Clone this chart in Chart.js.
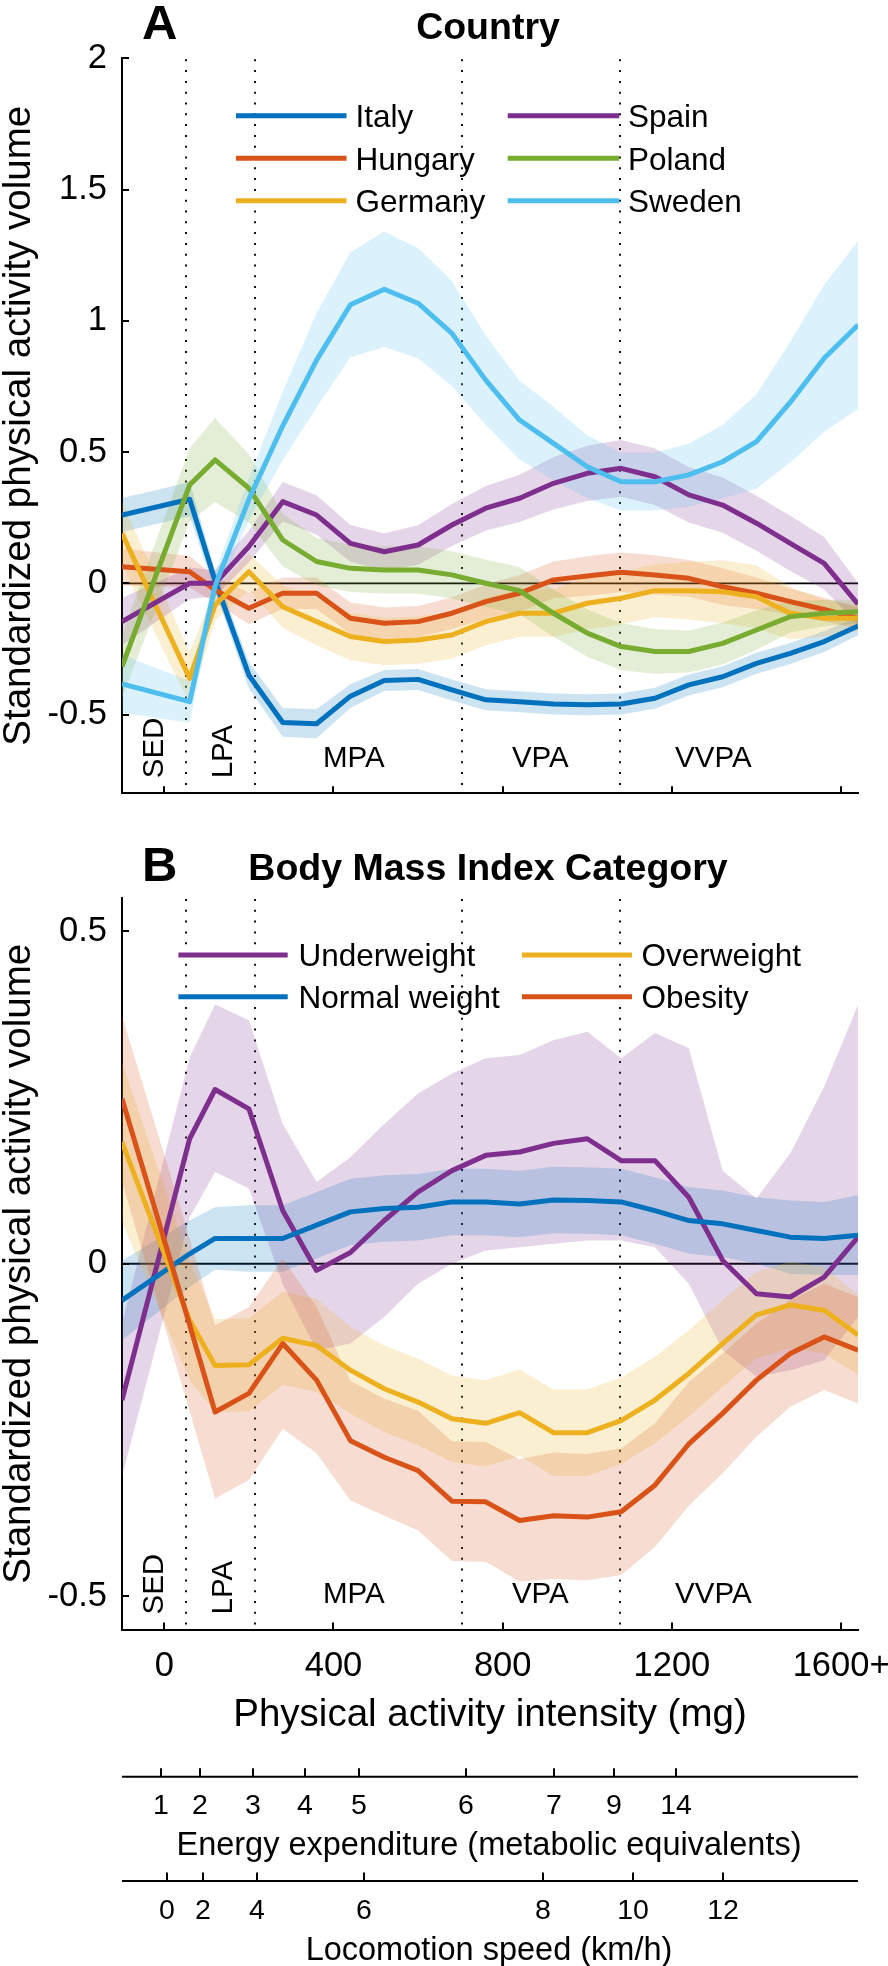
<!DOCTYPE html>
<html><head><meta charset="utf-8">
<script src="https://cdn.jsdelivr.net/npm/chart.js@4.4.1/dist/chart.umd.min.js"></script>
<style>
html,body{margin:0;padding:0;background:#fff;}
#wrap{position:relative;width:888px;height:1966px;overflow:hidden;}
#ca{position:absolute;left:0;top:0;}
#cb{position:absolute;left:0;top:820px;}
</style></head><body>
<div id="wrap"><canvas id="ca" width="888" height="820"></canvas><canvas id="cb" width="888" height="1146"></canvas></div>
<script>
const FONT = '"Liberation Sans", Arial, Helvetica, sans-serif';

// ---- shared x grid (physical activity intensity, mg) ----
const X_MG = [-100, 60, 120, 200, 280, 360, 440, 520, 600, 680, 760, 840, 920, 1000, 1080, 1160, 1240, 1320, 1400, 1480, 1560, 1640];

// ---- Panel A: Country ----
const COUNTRIES = ['Italy', 'Hungary', 'Germany', 'Spain', 'Poland', 'Sweden'];
const COUNTRY_COLORS = ['#0072BD', '#D95319', '#EDB120', '#7E2F8E', '#77AC30', '#4DBEEE'];
const ITALY   = [0.26, 0.32, 0.01, -0.35, -0.53, -0.535, -0.43, -0.37, -0.366, -0.406, -0.444, -0.451, -0.46, -0.463, -0.46, -0.438, -0.387, -0.356, -0.305, -0.267, -0.222, -0.163];
const HUNGARY = [0.063, 0.044, -0.025, -0.095, -0.038, -0.038, -0.133, -0.152, -0.146, -0.114, -0.07, -0.038, 0.013, 0.028, 0.042, 0.032, 0.019, -0.013, -0.038, -0.07, -0.1, -0.133];
const GERMANY = [0.19, -0.362, -0.083, 0.044, -0.089, -0.146, -0.203, -0.222, -0.216, -0.197, -0.146, -0.114, -0.114, -0.076, -0.057, -0.028, -0.028, -0.032, -0.051, -0.114, -0.133, -0.133];
const SPAIN   = [-0.146, 0.0, 0.0, 0.14, 0.311, 0.26, 0.152, 0.12, 0.146, 0.222, 0.286, 0.324, 0.381, 0.419, 0.438, 0.406, 0.337, 0.298, 0.229, 0.152, 0.076, -0.079];
const POLAND  = [-0.317, 0.375, 0.47, 0.362, 0.165, 0.083, 0.057, 0.051, 0.051, 0.032, 0.0, -0.028, -0.114, -0.19, -0.241, -0.26, -0.26, -0.229, -0.178, -0.127, -0.114, -0.108];
const SWEDEN  = [-0.383, -0.451, -0.01, 0.32, 0.6, 0.85, 1.061, 1.12, 1.067, 0.952, 0.774, 0.622, 0.533, 0.444, 0.387, 0.387, 0.413, 0.463, 0.54, 0.69, 0.857, 0.984];
// half-widths of the shaded bands
const ITALY_HW   = [0.065, 0.065, 0.04, 0.05, 0.055, 0.055, 0.045, 0.04, 0.04, 0.04, 0.04, 0.04, 0.04, 0.04, 0.04, 0.04, 0.04, 0.04, 0.04, 0.04, 0.04, 0.035];
const HUNGARY_HW = [0.07, 0.06, 0.05, 0.06, 0.06, 0.06, 0.06, 0.06, 0.06, 0.06, 0.065, 0.07, 0.07, 0.075, 0.075, 0.075, 0.07, 0.07, 0.06, 0.05, 0.045, 0.04];
const GERMANY_HW = [0.12, 0.1, 0.06, 0.07, 0.08, 0.09, 0.09, 0.09, 0.09, 0.09, 0.09, 0.09, 0.09, 0.1, 0.1, 0.1, 0.11, 0.12, 0.12, 0.1, 0.07, 0.05];
const SPAIN_HW   = [0.09, 0.06, 0.05, 0.06, 0.075, 0.075, 0.07, 0.07, 0.075, 0.08, 0.085, 0.09, 0.1, 0.105, 0.108, 0.108, 0.105, 0.105, 0.105, 0.105, 0.1, 0.08];
const POLAND_HW  = [0.12, 0.14, 0.16, 0.13, 0.1, 0.09, 0.09, 0.09, 0.09, 0.09, 0.09, 0.09, 0.09, 0.09, 0.09, 0.085, 0.08, 0.08, 0.075, 0.06, 0.05, 0.045];
const SWEDEN_HW  = [0.11, 0.08, 0.05, 0.08, 0.13, 0.18, 0.2, 0.22, 0.21, 0.2, 0.17, 0.15, 0.14, 0.12, 0.11, 0.11, 0.12, 0.14, 0.18, 0.23, 0.28, 0.32];

// ---- Panel B: Body Mass Index Category ----
const BMI_CATS = ['Underweight', 'Normal weight', 'Overweight', 'Obesity'];
const BMI_COLORS = ['#7E2F8E', '#0072BD', '#EDB120', '#D95319'];
const UNDERWEIGHT = [-0.205, 0.188, 0.262, 0.233, 0.08, -0.01, 0.017, 0.065, 0.108, 0.14, 0.163, 0.168, 0.181, 0.188, 0.155, 0.155, 0.1, 0.005, -0.045, -0.05, -0.02, 0.04];
const NORMAL      = [-0.055, 0.015, 0.038, 0.038, 0.038, 0.058, 0.078, 0.083, 0.085, 0.093, 0.093, 0.09, 0.096, 0.095, 0.093, 0.08, 0.065, 0.06, 0.05, 0.04, 0.038, 0.043];
const OVERWEIGHT  = [0.183, -0.085, -0.153, -0.152, -0.112, -0.123, -0.16, -0.188, -0.208, -0.233, -0.24, -0.224, -0.254, -0.254, -0.236, -0.205, -0.165, -0.12, -0.077, -0.062, -0.07, -0.107];
const OBESITY     = [0.248, -0.092, -0.223, -0.195, -0.12, -0.175, -0.266, -0.291, -0.311, -0.357, -0.358, -0.386, -0.379, -0.381, -0.373, -0.333, -0.271, -0.225, -0.175, -0.135, -0.11, -0.13];
const UNDERWEIGHT_LO = [-0.32, 0.07, 0.138, 0.113, -0.03, -0.13, -0.12, -0.08, -0.03, 0.0, 0.02, 0.025, 0.03, 0.035, 0.035, 0.025, -0.03, -0.13, -0.17, -0.16, -0.145, -0.08];
const UNDERWEIGHT_HI = [-0.09, 0.31, 0.39, 0.366, 0.21, 0.123, 0.16, 0.21, 0.256, 0.286, 0.309, 0.314, 0.336, 0.349, 0.309, 0.347, 0.324, 0.14, 0.098, 0.166, 0.266, 0.389];
const NORMAL_HW     = [0.06, 0.05, 0.047, 0.05, 0.05, 0.05, 0.05, 0.05, 0.05, 0.05, 0.05, 0.05, 0.05, 0.05, 0.05, 0.05, 0.05, 0.05, 0.05, 0.055, 0.055, 0.06];
const OVERWEIGHT_HW = [0.12, 0.09, 0.07, 0.07, 0.07, 0.07, 0.065, 0.065, 0.065, 0.065, 0.065, 0.065, 0.065, 0.065, 0.065, 0.065, 0.065, 0.065, 0.065, 0.065, 0.065, 0.06];
const OBESITY_HW    = [0.125, 0.13, 0.13, 0.13, 0.128, 0.11, 0.09, 0.088, 0.09, 0.09, 0.09, 0.092, 0.095, 0.095, 0.095, 0.093, 0.093, 0.09, 0.085, 0.08, 0.08, 0.08];

// ---- axes / ticks ----
const Y_TICKS_A = [-0.5, 0, 0.5, 1, 1.5, 2];
const Y_TICKS_B = [-0.5, 0, 0.5];
const X_TICKS = [0, 400, 800, 1200, 1600];
const X_TICK_LABELS = ['0', '400', '800', '1200', '1600+'];
const CUTPOINTS_MG = [52, 215, 704, 1077];
const INTENSITY_NAMES = ['SED', 'LPA', 'MPA', 'VPA', 'VVPA'];
const INTENSITY_LABEL_MG = [-29, 134, 448, 889, 1298];
const MET_TICKS_MG = [-8, 84, 210, 333, 460, 713, 921, 1062, 1209];
const MET_LABELS = ['1', '2', '3', '4', '5', '6', '7', '9', '14'];
const SPEED_TICKS_MG = [6, 92, 220, 472, 895, 1108, 1321];
const SPEED_LABELS = ['0', '2', '4', '6', '8', '10', '12'];

function rgba(hex, a) {
  const n = parseInt(hex.slice(1), 16);
  return `rgba(${(n >> 16) & 255},${(n >> 8) & 255},${n & 255},${a})`;
}
function withHW(name, color, mean, hw) {
  return {name, color, mean, lo: mean.map((m, i) => m - hw[i]), hi: mean.map((m, i) => m + hw[i])};
}
const SERIES_A = [
  withHW(COUNTRIES[0], COUNTRY_COLORS[0], ITALY, ITALY_HW),
  withHW(COUNTRIES[1], COUNTRY_COLORS[1], HUNGARY, HUNGARY_HW),
  withHW(COUNTRIES[2], COUNTRY_COLORS[2], GERMANY, GERMANY_HW),
  withHW(COUNTRIES[3], COUNTRY_COLORS[3], SPAIN, SPAIN_HW),
  withHW(COUNTRIES[4], COUNTRY_COLORS[4], POLAND, POLAND_HW),
  withHW(COUNTRIES[5], COUNTRY_COLORS[5], SWEDEN, SWEDEN_HW)
];
const SERIES_B = [
  {name: BMI_CATS[0], color: BMI_COLORS[0], mean: UNDERWEIGHT, lo: UNDERWEIGHT_LO, hi: UNDERWEIGHT_HI},
  withHW(BMI_CATS[1], BMI_COLORS[1], NORMAL, NORMAL_HW),
  withHW(BMI_CATS[2], BMI_COLORS[2], OVERWEIGHT, OVERWEIGHT_HW),
  withHW(BMI_CATS[3], BMI_COLORS[3], OBESITY, OBESITY_HW)
];

function pts(arr) { return X_MG.map((x, i) => ({x, y: arr[i]})); }

function buildDatasets(series) {
  const ds = [];
  series.forEach((s, k) => {
    ds.push({label: s.name, data: pts(s.mean), borderColor: s.color, borderWidth: 5,
      pointRadius: 0, fill: false, tension: 0, order: 100 - k, borderJoinStyle: 'round', borderCapStyle: 'butt'});
  });
  series.forEach((s, k) => {
    const lowIdx = ds.length;
    ds.push({label: s.name + ' lo', data: pts(s.lo), borderColor: 'rgba(0,0,0,0)', borderWidth: 0,
      pointRadius: 0, fill: false, tension: 0, order: 1000 - k});
    ds.push({label: s.name + ' hi', data: pts(s.hi), borderColor: 'rgba(0,0,0,0)', borderWidth: 0,
      pointRadius: 0, fill: lowIdx, backgroundColor: rgba(s.color, 0.2), tension: 0, order: 1000 - k});
  });
  return ds;
}

function makeDecor(cfg) {
  return {
    id: 'decor',
    beforeDatasetsDraw(chart) {
      const {ctx, chartArea: a, scales: {x, y}} = chart;
      ctx.save();
      const y0 = y.getPixelForValue(0);
      ctx.strokeStyle = '#000'; ctx.lineWidth = 1.8;
      ctx.beginPath(); ctx.moveTo(a.left, y0); ctx.lineTo(a.right, y0); ctx.stroke();
      ctx.setLineDash([2, 8.8]); ctx.lineWidth = 2; ctx.strokeStyle = '#111';
      CUTPOINTS_MG.forEach(v => {
        const px = Math.round(x.getPixelForValue(v));
        ctx.beginPath(); ctx.moveTo(px, a.top + 1); ctx.lineTo(px, a.bottom); ctx.stroke();
      });
      ctx.restore();
    },
    afterDatasetsDraw(chart) {
      const {ctx, chartArea: a, scales: {x, y}} = chart;
      ctx.save();
      ctx.strokeStyle = '#000'; ctx.lineWidth = 2;
      cfg.yTicks.forEach(v => {
        const py = Math.round(y.getPixelForValue(v));
        ctx.beginPath(); ctx.moveTo(a.left, py); ctx.lineTo(a.left + 7, py); ctx.stroke();
      });
      X_TICKS.forEach(v => {
        const px = Math.round(x.getPixelForValue(v));
        ctx.beginPath(); ctx.moveTo(px, a.bottom); ctx.lineTo(px, a.bottom - 7); ctx.stroke();
      });
      ctx.fillStyle = '#000';
      ctx.font = '29.5px ' + FONT;
      INTENSITY_NAMES.forEach((t, i) => {
        const px = x.getPixelForValue(INTENSITY_LABEL_MG[i]);
        if (i < 2) {
          ctx.save();
          ctx.translate(px + 10.6, a.bottom - 15);
          ctx.rotate(-Math.PI / 2);
          ctx.textAlign = 'left'; ctx.textBaseline = 'alphabetic';
          ctx.fillText(t, 0, 0);
          ctx.restore();
        } else {
          ctx.textAlign = 'center'; ctx.textBaseline = 'alphabetic';
          ctx.fillText(t, px, a.bottom - 26.5);
        }
      });
      ctx.font = '31.5px ' + FONT;
      ctx.textAlign = 'left'; ctx.textBaseline = 'alphabetic';
      cfg.series.forEach((s, k) => {
        const col = Math.floor(k / cfg.legend.rows.length);
        const row = k % cfg.legend.rows.length;
        const c = cfg.legend.cols[col];
        const ly = cfg.legend.rows[row];
        ctx.strokeStyle = s.color; ctx.lineWidth = 5;
        ctx.beginPath(); ctx.moveTo(c[0], ly); ctx.lineTo(c[1], ly); ctx.stroke();
        ctx.fillStyle = '#000';
        ctx.fillText(s.name, c[2], ly + 11.3);
      });
      ctx.restore();
    },
    afterDraw(chart) {
      const {ctx, chartArea: a, scales: {x}} = chart;
      ctx.save();
      ctx.fillStyle = '#000';
      ctx.textBaseline = 'alphabetic';
      ctx.font = 'bold 49px ' + FONT;
      ctx.textAlign = 'left';
      ctx.fillText(cfg.letter, cfg.letterX, cfg.letterY);
      ctx.font = 'bold 37.5px ' + FONT;
      ctx.textAlign = 'center';
      ctx.fillText(cfg.title, (a.left + a.right) / 2 - 2, cfg.titleY);
      if (cfg.extraAxes) {
        const axes = [
          {ticks: MET_TICKS_MG, labels: MET_LABELS, lineY: 956.7, labelY: 993.5, title: 'Energy expenditure (metabolic equivalents)', titleY: 1035},
          {ticks: SPEED_TICKS_MG, labels: SPEED_LABELS, lineY: 1061, labelY: 1098.5, title: 'Locomotion speed (km/h)', titleY: 1140}
        ];
        axes.forEach(ax => {
          ctx.strokeStyle = '#000'; ctx.lineWidth = 2;
          ctx.beginPath(); ctx.moveTo(a.left, ax.lineY); ctx.lineTo(a.right, ax.lineY); ctx.stroke();
          ctx.font = '28.5px ' + FONT; ctx.textAlign = 'center';
          ax.ticks.forEach((v, i) => {
            const px = Math.round(x.getPixelForValue(v));
            ctx.beginPath(); ctx.moveTo(px, ax.lineY); ctx.lineTo(px, ax.lineY - 8.5); ctx.stroke();
            ctx.fillText(ax.labels[i], px, ax.labelY);
          });
          ctx.font = '32.5px ' + FONT;
          ctx.fillText(ax.title, (a.left + a.right) / 2 - 1, ax.titleY);
        });
      }
      ctx.restore();
    }
  };
}

function makeChart(canvas, cfg) {
  return new Chart(canvas, {
    type: 'line',
    data: {datasets: buildDatasets(cfg.series)},
    options: {
      responsive: false, animation: false, devicePixelRatio: 1, events: [],
      layout: {padding: {top: cfg.padTop, right: 30, left: 0, bottom: 0}},
      plugins: {legend: {display: false}, tooltip: {enabled: false}, filler: {propagate: false}},
      scales: {
        x: {
          type: 'linear', min: -100, max: 1640,
          afterBuildTicks: s => { s.ticks = X_TICKS.map(v => ({value: v})); },
          ticks: {display: cfg.xLabels, autoSkip: false, maxRotation: 0, color: '#000', padding: 15.8,
            font: {family: FONT, size: 34.5},
            callback: v => { const i = X_TICKS.indexOf(v); return i >= 0 ? X_TICK_LABELS[i] : ''; }},
          grid: {display: false, drawTicks: false},
          border: {display: true, color: '#000', width: 2},
          title: {display: cfg.xLabels, text: 'Physical activity intensity (mg)', color: '#000',
            font: {family: FONT, size: 38.5, lineHeight: 1.2}, padding: {top: 0, bottom: 227.9}},
          afterFit: s => { s.height = cfg.xHeight; s.paddingLeft = 0; s.paddingRight = 0; }
        },
        y: {
          type: 'linear', min: cfg.yMin, max: cfg.yMax,
          afterBuildTicks: s => { s.ticks = cfg.yTicks.map(v => ({value: v})); },
          ticks: {color: '#000', padding: 15, font: {family: FONT, size: 34.5}, callback: v => String(v)},
          grid: {display: false, drawTicks: false},
          border: {display: true, color: '#000', width: 2},
          title: {display: true, text: 'Standardized physical activity volume', color: '#000',
            font: {family: FONT, size: 38.5, lineHeight: 1}, padding: 0},
          afterFit: s => { s.width = 122; s.paddingTop = 0; s.paddingBottom = 0; }
        }
      }
    },
    plugins: [makeDecor(cfg)]
  });
}

makeChart(document.getElementById('ca'), {
  series: SERIES_A, padTop: 58.3, xHeight: 26.7, xLabels: false,
  yMin: -0.8, yMax: 2, yTicks: Y_TICKS_A,
  letter: 'A', letterX: 142, letterY: 38.5, title: 'Country', titleY: 39.3,
  legend: {cols: [[236, 346.5, 355.6], [507.7, 619.3, 628]], rows: [115.7, 158.3, 200.7]},
  extraAxes: false
});
makeChart(document.getElementById('cb'), {
  series: SERIES_B, padTop: 78, xHeight: 336.5, xLabels: true,
  yMin: -0.55, yMax: 0.55, yTicks: Y_TICKS_B,
  letter: 'B', letterX: 142, letterY: 60.7, title: 'Body Mass Index Category', titleY: 60,
  legend: {cols: [[178.4, 287.7, 298.4], [522, 632, 641.6]], rows: [135, 176.7]},
  extraAxes: true
});
</script></body></html>
